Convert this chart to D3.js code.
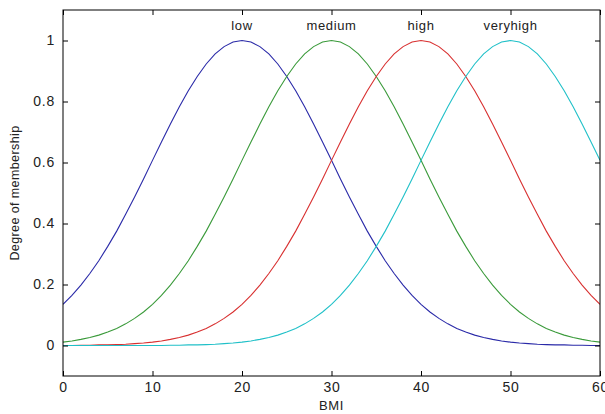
<!DOCTYPE html>
<html><head><meta charset="utf-8">
<script src="https://cdn.jsdelivr.net/npm/d3@7"></script>
<style>
body{margin:0;background:#fff;}
text{font-family:"Liberation Sans",Arial,sans-serif;fill:#222;}
</style></head>
<body><svg id="c" width="605" height="414"></svg>
<script>
const bmi = d3.range(0, 61);
const lowVals = [0.135,0.164,0.198,0.236,0.278,0.325,0.375,0.430,0.487,0.546,0.607,0.667,0.726,0.783,0.835,0.882,0.923,0.956,0.980,0.995,1.000,
0.995,0.980,0.956,0.923,0.882,0.835,0.783,0.726,0.667,0.607,0.546,0.487,0.430,0.375,0.325,0.278,0.236,0.198,0.164,0.135,
0.110,0.089,0.071,0.056,0.044,0.034,0.026,0.020,0.015,0.011,0.008,0.006,0.004,0.003,0.002,0.002,0.001,0.001,0.000,0.000];
const mediumVals = [0.011,0.015,0.020,0.026,0.034,0.044,0.056,0.071,0.089,0.110,
0.135,0.164,0.198,0.236,0.278,0.325,0.375,0.430,0.487,0.546,
0.607,0.667,0.726,0.783,0.835,0.882,0.923,0.956,0.980,0.995,1.000,
0.995,0.980,0.956,0.923,0.882,0.835,0.783,0.726,0.667,0.607,
0.546,0.487,0.430,0.375,0.325,0.278,0.236,0.198,0.164,0.135,
0.110,0.089,0.071,0.056,0.044,0.034,0.026,0.020,0.015,0.011];
const highVals = [0.000,0.000,0.001,0.001,0.002,0.002,0.003,0.004,0.006,0.008,
0.011,0.015,0.020,0.026,0.034,0.044,0.056,0.071,0.089,0.110,
0.135,0.164,0.198,0.236,0.278,0.325,0.375,0.430,0.487,0.546,
0.607,0.667,0.726,0.783,0.835,0.882,0.923,0.956,0.980,0.995,1.000,
0.995,0.980,0.956,0.923,0.882,0.835,0.783,0.726,0.667,0.607,
0.546,0.487,0.430,0.375,0.325,0.278,0.236,0.198,0.164,0.135];
const veryhighVals = [0,0,0,0,0,0,0,0,0,0,
0.000,0.000,0.001,0.001,0.002,0.002,0.003,0.004,0.006,0.008,
0.011,0.015,0.020,0.026,0.034,0.044,0.056,0.071,0.089,0.110,
0.135,0.164,0.198,0.236,0.278,0.325,0.375,0.430,0.487,0.546,
0.607,0.667,0.726,0.783,0.835,0.882,0.923,0.956,0.980,0.995,1.000,
0.995,0.980,0.956,0.923,0.882,0.835,0.783,0.726,0.667,0.607];
const seriesNames = ["low","medium","high","veryhigh"];
const seriesCenters = [20,30,40,50];
const seriesColors = ["#2a2aa8","#3a9a3a","#d83030","#20c0c8"];
const xTicks = [0,10,20,30,40,50,60];
const yTicks = [0,0.2,0.4,0.6,0.8,1];
const xLabel = "BMI";
const yLabel = "Degree of membership";

const allVals = [lowVals, mediumVals, highVals, veryhighVals];
const L=63, R=600, T=10, B=376;
const svg = d3.select("#c");
const x = d3.scaleLinear().domain([0,60]).range([L,R]);
const y = d3.scaleLinear().domain([-0.1,1.1]).range([B,T]);

svg.append("defs").append("clipPath").attr("id","clip")
  .append("rect").attr("x",L).attr("y",T).attr("width",R-L).attr("height",B-T);

const line = d3.line().x((d,i)=>x(bmi[i])).y(d=>y(d));
const g = svg.append("g").attr("clip-path","url(#clip)");
allVals.forEach((vals,k)=>{
  g.append("path").attr("d", line(vals)).attr("fill","none")
   .attr("stroke", seriesColors[k]).attr("stroke-width",1.1);
});

// axes (inward ticks, mirrored)
const fs = "13px";
const ax = svg.append("g");
ax.append("g").attr("transform",`translate(0,${B})`)
  .call(d3.axisBottom(x).tickValues(xTicks).tickSizeInner(-5).tickSizeOuter(0).tickPadding(6).tickFormat(d3.format("d")));
ax.append("g").attr("transform",`translate(0,${T})`)
  .call(d3.axisTop(x).tickValues(xTicks).tickSizeInner(-5).tickSizeOuter(0).tickFormat(""));
ax.append("g").attr("transform",`translate(${L},0)`)
  .call(d3.axisLeft(y).tickValues(yTicks).tickSizeInner(-5).tickSizeOuter(0).tickPadding(8).tickFormat(d=>d3.format("")(d)));
ax.append("g").attr("transform",`translate(${R},0)`)
  .call(d3.axisRight(y).tickValues(yTicks).tickSizeInner(-5).tickSizeOuter(0).tickFormat(""));
ax.selectAll(".domain").remove();
ax.selectAll(".tick line").attr("stroke","#000");
ax.selectAll(".tick text").attr("font-size","14px").attr("fill","#222").style("letter-spacing","0.8px")
  .attr("font-family","Liberation Sans, Arial, sans-serif");
svg.append("rect").attr("x",L).attr("y",T).attr("width",R-L).attr("height",B-T)
  .attr("fill","none").attr("stroke","#000").attr("stroke-width",1);

// series labels
seriesNames.forEach((n,k)=>{
  svg.append("text").attr("x",x(seriesCenters[k])).attr("y",y(1.05)+5)
    .attr("text-anchor","middle").attr("font-size",fs).style("letter-spacing","0.6px").text(n);
});
svg.append("text").attr("x",(L+R)/2).attr("y",410).attr("text-anchor","middle")
  .attr("font-size",fs).style("letter-spacing","0.6px").text(xLabel);
svg.append("text").attr("transform",`translate(19,${(T+B)/2}) rotate(-90)`)
  .attr("text-anchor","middle").attr("font-size","12.5px").style("letter-spacing","0.4px").text(yLabel);
</script></body></html>
